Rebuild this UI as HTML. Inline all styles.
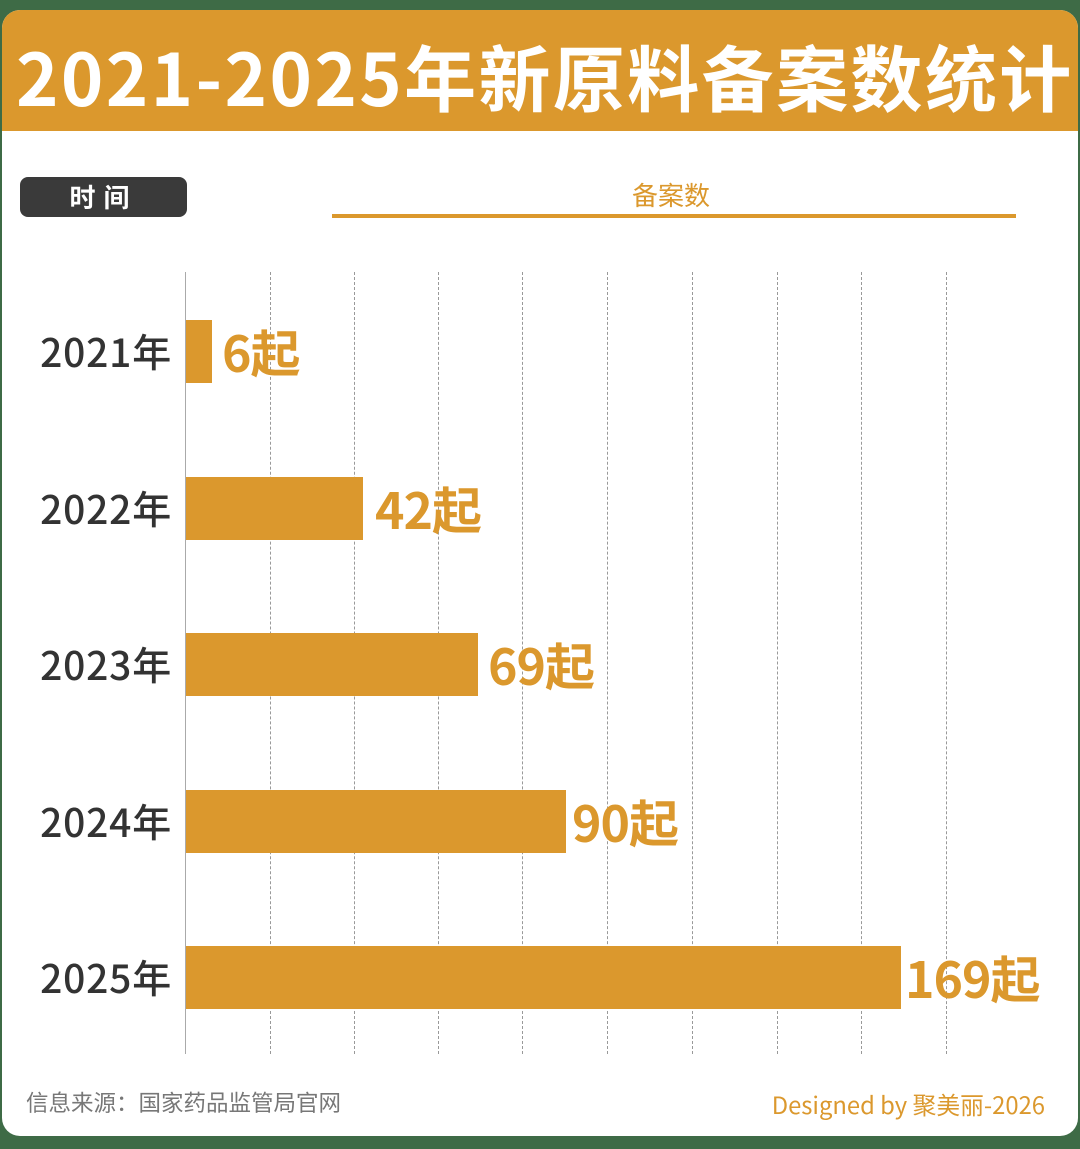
<!DOCTYPE html>
<html><head><meta charset="utf-8"><style>
*{margin:0;padding:0;box-sizing:border-box}
body{width:1080px;height:1149px;background:#3e6b46;position:relative;overflow:hidden;font-family:"Liberation Sans","Noto Sans CJK SC",sans-serif}
.card{position:absolute;left:2px;top:10px;width:1076px;height:1126px;background:#fff;border-radius:18px;overflow:hidden}
.hdr{position:absolute;left:0;top:0;width:100%;height:121px;background:#db982d;overflow:hidden}
.title{position:absolute;left:14px;top:12px;font-size:72px;font-weight:bold;color:#fff;white-space:nowrap;letter-spacing:2.4px;font-family:"Noto Sans CJK SC",sans-serif}
.pill{position:absolute;left:18px;top:167px;width:167px;height:40px;background:#3a3a3a;border-radius:8px;color:#fff;font-size:26px;font-weight:bold;text-align:center;line-height:40px;letter-spacing:8px;font-family:"Noto Sans CJK SC",sans-serif}
.hl{position:absolute;left:630px;top:166px;color:#db982d;font-size:26px;font-family:"Noto Sans CJK SC",sans-serif}
.ul{position:absolute;left:330px;top:204px;width:684px;height:4px;background:#db982d}
.g{position:absolute;top:262px;height:782px;border-left:1px dashed #999}
.bar{position:absolute;left:184px;height:63px;background:#db982d}
.yr{position:absolute;left:10px;width:160px;text-align:right;font-size:39px;font-weight:500;color:#333;font-family:"Noto Sans CJK SC",sans-serif;line-height:63px;letter-spacing:0.8px}
.v{position:absolute;font-size:50px;font-weight:bold;color:#db982d;line-height:63px;font-family:"Noto Sans CJK SC",sans-serif;letter-spacing:-1px}
.src{position:absolute;left:24px;top:1076px;font-size:22.5px;color:#777;font-family:"Noto Sans CJK SC",sans-serif}
.des{position:absolute;right:33px;top:1076px;font-size:23.8px;color:#db982d;font-family:"Noto Sans CJK SC",sans-serif}
</style></head><body>
<div class="card">
<div class="hdr"><div class="title">2021-2025年新原料备案数统计</div></div>
<div class="pill">时间</div>
<div class="hl">备案数</div>
<div class="ul"></div>
<div class="g" style="left:183px;border-left:1px solid #aaa"></div>
<div class="g" style="left:268px"></div><div class="g" style="left:352px"></div><div class="g" style="left:436px"></div><div class="g" style="left:520px"></div><div class="g" style="left:605px"></div><div class="g" style="left:690px"></div><div class="g" style="left:775px"></div><div class="g" style="left:859px"></div><div class="g" style="left:944px"></div>
<div class="yr" style="top:310px">2021年</div><div class="bar" style="top:310px;width:26px"></div><div class="v" style="left:220px;top:310px">6起</div>
<div class="yr" style="top:467px">2022年</div><div class="bar" style="top:467px;width:177px"></div><div class="v" style="left:373px;top:467px">42起</div>
<div class="yr" style="top:623px">2023年</div><div class="bar" style="top:623px;width:292px"></div><div class="v" style="left:486px;top:623px">69起</div>
<div class="yr" style="top:780px">2024年</div><div class="bar" style="top:780px;width:380px"></div><div class="v" style="left:570px;top:780px">90起</div>
<div class="yr" style="top:936px">2025年</div><div class="bar" style="top:936px;width:715px"></div><div class="v" style="left:903px;top:936px">169起</div>
<div class="src">信息来源：国家药品监管局官网</div>
<div class="des">Designed by 聚美丽-2026</div>
</div>
</body></html>
